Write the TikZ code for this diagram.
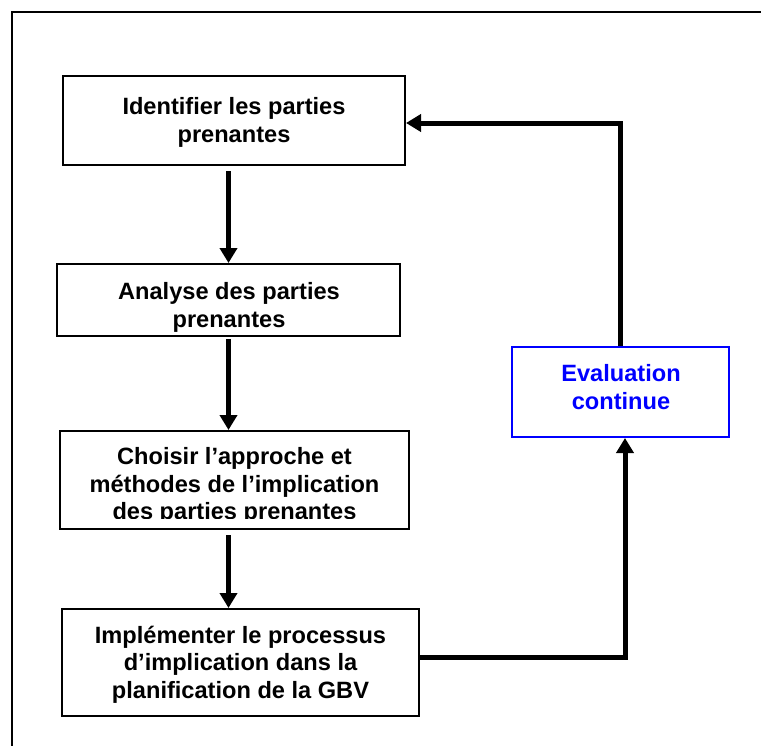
\documentclass[tikz,border=0pt]{standalone}
\usepackage{fontspec}
\setmainfont{Liberation Sans}
\usetikzlibrary{arrows.meta,calc}
\definecolor{evalblue}{RGB}{0,0,255}
\begin{document}
\begin{tikzpicture}[x=1pt,y=-1pt,
  box/.style={draw, line width=2pt, inner sep=0pt},
  lbl/.style={font=\bfseries\fontsize{23.6}{27.5}\selectfont, align=center, inner sep=0pt, anchor=base},
  conn/.style={line width=5pt},
  arr/.style={conn, -{Triangle[length=15pt,width=17pt]}}]
\useasboundingbox (0,0) rectangle (761,745);
\clip (0,0) rectangle (761,745);
% outer frame (right and bottom edges lie outside the picture)
\draw[line width=2.2pt] (12,780) -- (12,12) -- (790,12) -- (790,780) -- cycle;

% boxes
\node[box, minimum width=342pt, minimum height=89pt] (b1) at (234,120.5) {};
\node[box, minimum width=343pt, minimum height=72pt] (b2) at (228.5,300) {};
\node[box, minimum width=349pt, minimum height=98pt] (b3) at (234.5,480) {};
\node[box, minimum width=357pt, minimum height=107pt] (b4) at (240.5,662.5) {};
\node[box, draw=evalblue, minimum width=217pt, minimum height=90pt] (ev) at (620.5,392) {};

% texts (base anchor = baseline of the last line)
\node[lbl] (t1) at (234,142) {Identifier les parties\\prenantes};
\begin{scope}
  \clip (57,264) rectangle (400,331.5);
  \node[lbl] (t2) at (229,327) {Analyse des parties\\prenantes};
\end{scope}
\begin{scope}
  \clip (60,431) rectangle (409,518.5);
  \node[lbl] (t3) at (234.5,519.5) {Choisir l’approche et\\méthodes de l’implication\\des parties prenantes};
\end{scope}
\node[lbl] (t4) at (240.5,698) {Implémenter le processus\\d’implication dans la\\planification de la GBV};
\node[lbl, text=evalblue] (t5) at (621,409) {Evaluation\\continue};

% connectors
\draw[arr, shorten <=5pt] (b1.south -| b2.north) -- (b2.north);
\draw[arr, shorten <=2pt] (b2.south) -- (b3.north -| b2.south);
\draw[arr, shorten <=5pt] (b3.south -| b2.south) -- (b4.north -| b2.south);
\coordinate (c1) at (625,657);
\coordinate (c2) at (621,123);
\draw[arr] (b4.east |- c1) -- (c1) -- (ev.south -| c1);
\draw[arr] (ev.north) -- (ev.north |- c2) -- (b1.east |- c2);
\end{tikzpicture}
\end{document}
